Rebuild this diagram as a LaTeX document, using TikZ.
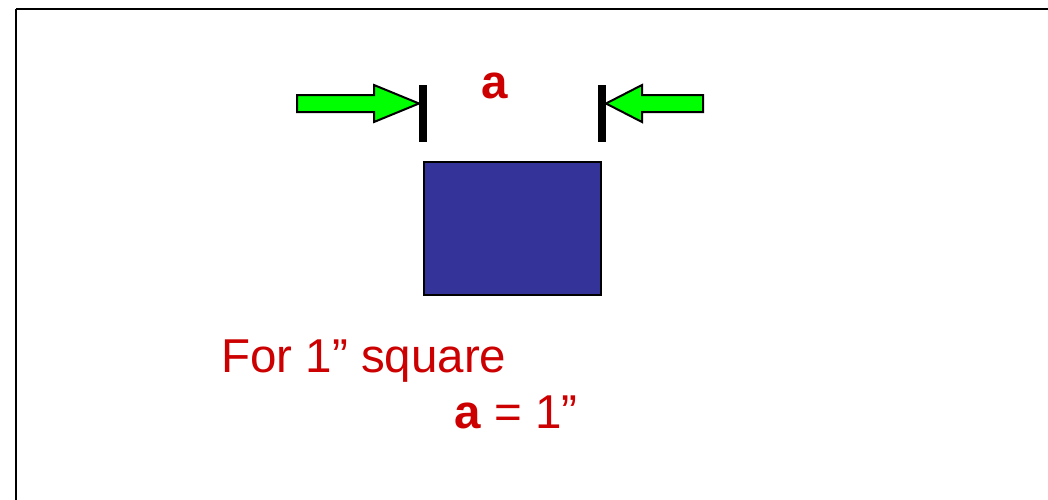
\documentclass[tikz,border=0pt]{standalone}
\usepackage{fontspec}
\setmainfont{Liberation Sans}
\usepackage{tikz}
\usetikzlibrary{positioning}
\usepackage{xcolor}
\definecolor{labred}{RGB}{204,0,0}
\definecolor{sqblue}{RGB}{51,51,153}
\definecolor{pushg}{RGB}{0,255,0}

\begin{document}
\begin{tikzpicture}[x=1pt, y=-1pt,
  pusharrow/.style={draw=black, line width=2pt, fill=pushg, line join=miter},
  gauge/.style={draw=black, line width=8pt},
  redtext/.style={text=labred, inner sep=0pt, font=\fontsize{47.5}{52}\selectfont}]
  \useasboundingbox (0,0) rectangle (1048,499);
  % frame
  \draw[line width=2.8pt] (16,9) -- (1070,9) (16,9) -- (16,520);
  % gauge bars
  \coordinate (gl) at (423,85);
  \coordinate (gr) at (602,85);
  \draw[gauge] (gl) -- ++(0,57);
  \draw[gauge] (gr) -- ++(0,57);
  % arrows
  \draw[pusharrow] (297,95) -- (374,95) -- (374,85) -- (419,103.5) -- (374,122) -- (374,112) -- (297,112) -- cycle;
  \draw[pusharrow] (703,95) -- (642,95) -- (642,85) -- (606,103.5) -- (642,122) -- (642,112) -- (703,112) -- cycle;
  \node[redtext, anchor=base] (alabel) at (495,98) {\bfseries a};
  % square
  \node[draw, line width=2.5pt, fill=sqblue, minimum width=177pt, minimum height=133pt] (sq) at (512.5,228.5) {};
  % text
  \node[redtext, anchor=base west] (forline) at (221,372) {For 1” square};
  \node[redtext, anchor=base west] (eqline) at (454,428) {\textbf{a} = 1”};
\end{tikzpicture}
\end{document}
